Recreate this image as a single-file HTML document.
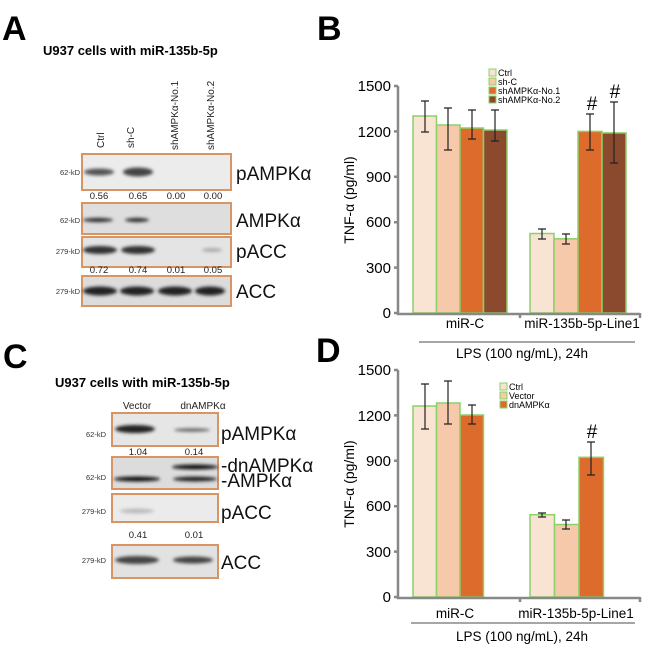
<!DOCTYPE html>
<html><head><meta charset="utf-8"><style>
html,body{margin:0;padding:0;background:#fff;}
svg{display:block;font-family:"Liberation Sans",Arial,sans-serif;}
</style></head><body>
<svg width="650" height="649" viewBox="0 0 650 649" xmlns="http://www.w3.org/2000/svg">
<defs>
<filter id="bl" x="-20%" y="-100%" width="140%" height="300%"><feGaussianBlur stdDeviation="1.6"/></filter>
</defs>
<!-- Panel letters -->
<g font-weight="bold" font-size="34" fill="#000">
<text x="2" y="40">A</text><text x="317" y="40">B</text>
<text x="3" y="368">C</text><text x="316" y="362">D</text>
</g>
<!-- Panel A -->
<text x="43" y="55" font-size="13" font-weight="bold">U937 cells with miR-135b-5p</text>
<g font-size="10" fill="#222">
<text transform="translate(104,148) rotate(-90)">Ctrl</text>
<text transform="translate(134,148) rotate(-90)">sh-C</text>
<text transform="translate(178,150) rotate(-90)">shAMPKα-No.1</text>
<text transform="translate(214,150) rotate(-90)">shAMPKα-No.2</text>
</g>
<g stroke="#d89462" stroke-width="2" fill="#e9e9e9">
<rect x="82" y="154" width="149" height="36" fill="#ececec"/>
<rect x="82" y="203" width="149" height="31" fill="#dedede"/>
<rect x="82" y="237" width="149" height="30" fill="#e4e4e4"/>
<rect x="82" y="276" width="149" height="30" fill="#dcdcdc"/>
</g>
<g filter="url(#bl)" fill="#333">
<ellipse cx="99" cy="172" rx="15" ry="3.5" fill="#555"/>
<ellipse cx="138" cy="172" rx="15" ry="4.5" fill="#444"/>
<ellipse cx="98" cy="220" rx="15" ry="2.2" fill="#333"/>
<ellipse cx="137" cy="220" rx="12" ry="2.2" fill="#333"/>
<ellipse cx="100" cy="250" rx="17" ry="4" fill="#333"/>
<ellipse cx="138" cy="250" rx="17" ry="4" fill="#333"/>
<ellipse cx="212" cy="250" rx="10" ry="2" fill="#aaa"/>
<ellipse cx="100" cy="291" rx="17" ry="4.5" fill="#222"/>
<ellipse cx="137" cy="291" rx="17" ry="4.5" fill="#222"/>
<ellipse cx="175" cy="291" rx="17" ry="4.5" fill="#222"/>
<ellipse cx="210" cy="291" rx="15" ry="4.5" fill="#222"/>
</g>
<g font-size="7.5" fill="#333" text-anchor="end">
<text x="80" y="175">62-kD</text><text x="80" y="223">62-kD</text>
<text x="80" y="254">279-kD</text><text x="80" y="294">279-kD</text>
</g>
<g font-size="9.5" fill="#222" text-anchor="middle">
<text x="99" y="199">0.56</text><text x="138" y="199">0.65</text><text x="176" y="199">0.00</text><text x="213" y="199">0.00</text>
<text x="99" y="273">0.72</text><text x="138" y="273">0.74</text><text x="176" y="273">0.01</text><text x="213" y="273">0.05</text>
</g>
<g font-size="19" fill="#111">
<text x="236" y="180">pAMPKα</text><text x="236" y="227">AMPKα</text>
<text x="236" y="258">pACC</text><text x="236" y="298">ACC</text>
</g>
<!-- Panel C -->
<text x="55" y="387" font-size="13" font-weight="bold">U937 cells with miR-135b-5p</text>
<g font-size="10" fill="#222" text-anchor="middle">
<text x="137" y="409">Vector</text><text x="203" y="409">dnAMPKα</text>
</g>
<g stroke="#d89462" stroke-width="2">
<rect x="112" y="413" width="106" height="33" fill="#e6e6e6"/>
<rect x="112" y="457" width="106" height="32" fill="#dcdcdc"/>
<rect x="112" y="494" width="106" height="28" fill="#ebebeb"/>
<rect x="112" y="545" width="106" height="33" fill="#e2e2e2"/>
</g>
<g filter="url(#bl)">
<ellipse cx="135" cy="429" rx="20" ry="4" fill="#222"/>
<ellipse cx="192" cy="430" rx="18" ry="1.8" fill="#666"/>
<ellipse cx="195" cy="467" rx="23" ry="2.5" fill="#111"/>
<ellipse cx="137" cy="479" rx="23" ry="2.5" fill="#111"/>
<ellipse cx="195" cy="479" rx="22" ry="2.5" fill="#222"/>
<ellipse cx="137" cy="511" rx="17" ry="2.5" fill="#bbb"/>
<ellipse cx="137" cy="560" rx="22" ry="4" fill="#444"/>
<ellipse cx="193" cy="560" rx="20" ry="3.5" fill="#444"/>
</g>
<g font-size="7.5" fill="#333" text-anchor="end">
<text x="106" y="437">62-kD</text><text x="106" y="480">62-kD</text>
<text x="106" y="514">279-kD</text><text x="106" y="563">279-kD</text>
</g>
<g font-size="9.5" fill="#222" text-anchor="middle">
<text x="138" y="455">1.04</text><text x="194" y="455">0.14</text>
<text x="138" y="538">0.41</text><text x="194" y="538">0.01</text>
</g>
<g font-size="19" fill="#111">
<text x="221" y="440">pAMPKα</text>
<text x="221" y="472">-dnAMPKα</text><text x="221" y="487">-AMPKα</text>
<text x="221" y="519">pACC</text><text x="221" y="569">ACC</text>
</g>
<!-- Panel B chart -->
<g stroke="#8bd168" stroke-width="1.5">
<rect x="413" y="116" width="23.5" height="197" fill="#f9e3d3"/>
<rect x="436.5" y="125" width="23.5" height="188" fill="#f6c9aa"/>
<rect x="460" y="128" width="23.5" height="185" fill="#dd6b2b"/>
<rect x="483.5" y="130" width="23.5" height="183" fill="#8b4a2d"/>
<rect x="530" y="233.5" width="24" height="79.5" fill="#f9e3d3"/>
<rect x="554" y="238.8" width="24" height="74.2" fill="#f6c9aa"/>
<rect x="578" y="131.4" width="24" height="181.6" fill="#dd6b2b"/>
<rect x="602" y="132.9" width="24" height="180.1" fill="#8b4a2d"/>
</g>
<g stroke="#222" stroke-width="1.2">
<path d="M425 101V132M421 101H429M421 132H429"/>
<path d="M448 108V150M444 108H452M444 150H452"/>
<path d="M472 110V139M468 110H476M468 139H476"/>
<path d="M495 110V141M491 110H499M491 141H499"/>
<path d="M542 229V239M538 229H546M538 239H546"/>
<path d="M566 234V244M562 234H570M562 244H570"/>
<path d="M590 114V150M586 114H594M586 150H594"/>
<path d="M614 102V163M610 102H618M610 163H618"/>
</g>
<g font-size="19" text-anchor="middle"><text x="592" y="110">#</text><text x="615" y="98">#</text></g>
<g stroke="#888" stroke-width="2.5" fill="none">
<path d="M398 86V314H640"/>
<path d="M394 86H398M394 131.4H398M394 176.8H398M394 222.2H398M394 267.6H398M394 313H398M520 313V318M640 313V318"/>
</g>
<g font-size="15" text-anchor="end">
<text x="391" y="91">1500</text><text x="391" y="137">1200</text><text x="391" y="182">900</text>
<text x="391" y="227">600</text><text x="391" y="273">300</text><text x="391" y="318">0</text>
</g>
<text transform="translate(354,200) rotate(-90)" font-size="14" text-anchor="middle">TNF-α (pg/ml)</text>
<g font-size="9">
<rect x="489" y="69" width="7" height="7" fill="#f9e3d3" stroke="#8bd168"/><text x="498" y="76">Ctrl</text>
<rect x="489" y="78" width="7" height="7" fill="#f6c9aa" stroke="#8bd168"/><text x="498" y="85">sh-C</text>
<rect x="489" y="87" width="7" height="7" fill="#dd6b2b" stroke="#8bd168"/><text x="498" y="94">shAMPKα-No.1</text>
<rect x="489" y="96" width="7" height="7" fill="#8b4a2d" stroke="#8bd168"/><text x="498" y="103">shAMPKα-No.2</text>
</g>
<g font-size="13.5" text-anchor="middle">
<text x="465" y="328">miR-C</text><text x="582" y="328">miR-135b-5p-Line1</text>
<text x="522" y="358">LPS (100 ng/mL), 24h</text>
</g>
<path d="M419 342H635" stroke="#888" stroke-width="1.5"/>
<!-- Panel D chart -->
<g stroke="#8bd168" stroke-width="1.5">
<rect x="413" y="406" width="23.5" height="191" fill="#f9e3d3"/>
<rect x="436.5" y="403" width="23.5" height="194" fill="#f6c9aa"/>
<rect x="460" y="415" width="23.5" height="182" fill="#dd6b2b"/>
<rect x="530" y="514.7" width="24.5" height="82.3" fill="#f9e3d3"/>
<rect x="554.5" y="524.5" width="24.5" height="72.5" fill="#f6c9aa"/>
<rect x="579" y="457.3" width="24.5" height="139.7" fill="#dd6b2b"/>
</g>
<g stroke="#222" stroke-width="1.2">
<path d="M425 384V429M421 384H429M421 429H429"/>
<path d="M448 381V424M444 381H452M444 424H452"/>
<path d="M472 405V424M468 405H476M468 424H476"/>
<path d="M542 513V517M538 513H546M538 517H546"/>
<path d="M566 520V529M562 520H570M562 529H570"/>
<path d="M591 442V475M587 442H595M587 475H595"/>
</g>
<text x="592" y="438" font-size="19" text-anchor="middle">#</text>
<g stroke="#888" stroke-width="2.5" fill="none">
<path d="M398 370V598H640"/>
<path d="M394 370H398M394 415.4H398M394 460.8H398M394 506.2H398M394 551.6H398M394 597H398M520 597V602M640 597V602"/>
</g>
<g font-size="15" text-anchor="end">
<text x="391" y="375">1500</text><text x="391" y="421">1200</text><text x="391" y="466">900</text>
<text x="391" y="511">600</text><text x="391" y="557">300</text><text x="391" y="602">0</text>
</g>
<text transform="translate(354,484) rotate(-90)" font-size="14" text-anchor="middle">TNF-α (pg/ml)</text>
<g font-size="9">
<rect x="500" y="383" width="7" height="7" fill="#f9e3d3" stroke="#8bd168"/><text x="509" y="390">Ctrl</text>
<rect x="500" y="392" width="7" height="7" fill="#f6c9aa" stroke="#8bd168"/><text x="509" y="399">Vector</text>
<rect x="500" y="401" width="7" height="7" fill="#dd6b2b" stroke="#8bd168"/><text x="509" y="408">dnAMPKα</text>
</g>
<g font-size="13.5" text-anchor="middle">
<text x="455" y="618">miR-C</text><text x="576" y="618">miR-135b-5p-Line1</text>
<text x="522" y="641">LPS (100 ng/mL), 24h</text>
</g>
<path d="M411 623H635" stroke="#888" stroke-width="1.5"/>
</svg>
</body></html>
